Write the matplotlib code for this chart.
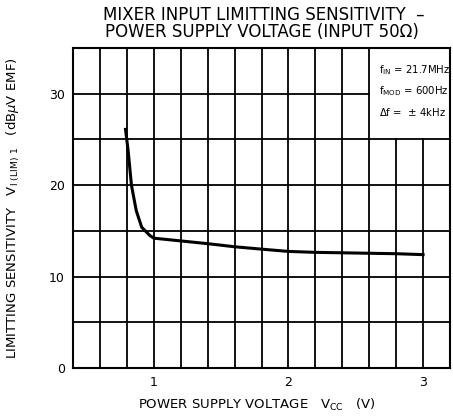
import matplotlib
matplotlib.use("Agg")
import matplotlib.pyplot as plt
import numpy as np

vcc = [0.79, 0.81, 0.834, 0.87, 0.91, 0.97, 1.0, 1.2, 1.4, 1.6, 1.8, 2.0, 2.2, 2.4, 2.6, 2.8, 3.0]
sens = [26.1, 23.7, 20.0, 17.2, 15.4, 14.5, 14.2, 13.9, 13.6, 13.26, 13.0, 12.75, 12.65, 12.6, 12.55, 12.5, 12.4]

xticks = [1, 2, 3]
yticks = [0, 10, 20, 30]

fig = plt.figure(figsize=(4.53, 4.16), dpi=100)
ax = fig.add_axes([73/453, 1-368/416, (450-73)/453, (368-48)/416])
ax.set_xlim(0.4, 3.2)
ax.set_ylim(0, 35)

# grid
for gx in np.arange(0.6, 3.2, 0.2):
    top = 25 if gx > 2.61 else 35
    ax.plot([gx, gx], [0, top], color='black', lw=1.3, zorder=1)
for gy in np.arange(5, 35, 5):
    right = 2.6 if gy > 25.1 else 3.2
    ax.plot([0.4, right], [gy, gy], color='black', lw=1.3, zorder=1)

ax.plot(vcc, sens, color='black', lw=2.2, zorder=3)

for s in ax.spines.values():
    s.set_linewidth(1.5)

ax.set_xticks(xticks)
ax.set_xticklabels([str(t) for t in xticks])
ax.set_yticks(yticks)
ax.set_yticklabels([str(t) for t in yticks])
ax.tick_params(length=0, labelsize=9, pad=6)

fs = 7.3
ax.text(2.67, 32.6, r'f$_{\mathrm{IN}}$ = 21.7MHz', fontsize=fs, va='center')
ax.text(2.67, 30.3, r'f$_{\mathrm{MOD}}$ = 600Hz', fontsize=fs, va='center')
ax.text(2.67, 28.0, r'$\Delta$f =  $\pm$ 4kHz', fontsize=fs, va='center')

fig.text(0.583, 1-15/416, 'MIXER INPUT LIMITTING SENSITIVITY  –', ha='center', va='center', fontsize=12)
fig.text(0.578, 1-32/416, 'POWER SUPPLY VOLTAGE (INPUT 50Ω)', ha='center', va='center', fontsize=12)

fig.text(257/453, 1-405/416, r'POWER SUPPLY VOLTAGE   V$_{\mathrm{CC}}$   (V)', ha='center', va='center', fontsize=9.5)
fig.text(13/453, 1-208/416, r'LIMITTING SENSITIVITY   V$_{\mathrm{I\ (LIM)\ 1}}$   (dB$\mu$V EMF)', ha='center', va='center', rotation=90, fontsize=9.5)

fig.savefig('out.png', dpi=100)
